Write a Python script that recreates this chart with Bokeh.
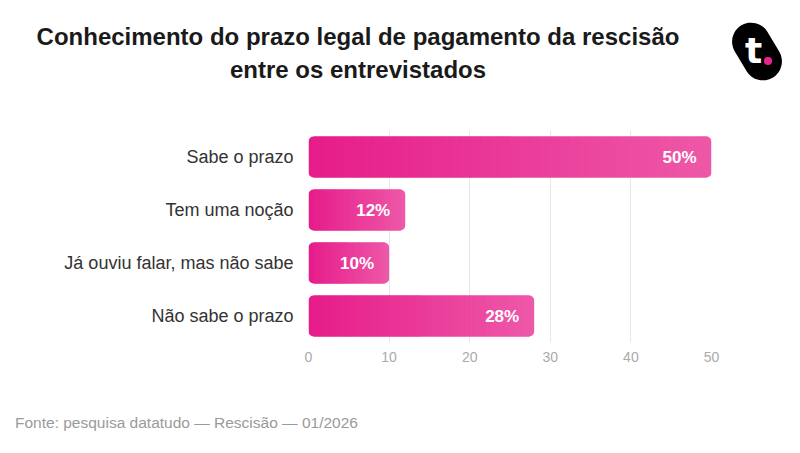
import numpy as np
from bokeh.plotting import figure
from bokeh.layouts import column
from bokeh.models import Range1d, FixedTicker, ColumnDataSource, Div
from bokeh.core.properties import value
from bokeh.embed import file_html
from bokeh.resources import INLINE

# ---- data ----
categories = ["Sabe o prazo", "Tem uma noção", "Já ouviu falar, mas não sabe", "Não sabe o prazo"]
values = [50, 12, 10, 28]
bar_labels = ["50%", "12%", "10%", "28%"]
x_ticks = [0, 10, 20, 30, 40, 50]
title_lines = ["Conhecimento do prazo legal de pagamento da rescisão", "entre os entrevistados"]
footer = "Fonte: pesquisa datatudo — Rescisão — 01/2026"

# ---- layout ----
W, H = 800, 453
TOP_H = 130          # header strip
MAIN_H = 270         # chart strip (130..400)
BOT_H = H - TOP_H - MAIN_H
FL, FR = 308, 711
FRAME_H = 212
FONT = "Liberation Sans"
C0 = np.array([230, 28, 138])
C1 = np.array([238, 88, 168])

# ---- header: title + logo (HTML) ----
header_html = (
    '<div style="position:relative;width:800px;height:130px;margin:0;padding:0;'
    "font-family:'Liberation Sans',Arial,sans-serif;\">"
    '<div style="position:absolute;left:0;top:20.2px;width:716px;text-align:center;'
    'font-weight:bold;font-size:24px;line-height:33px;color:#1a1a1a;white-space:nowrap;">'
    + title_lines[0] + "<br>" + title_lines[1] + "</div>"
    '<div style="position:absolute;left:738px;top:20.5px;width:38px;height:61px;'
    'border-radius:19px;background:#000;transform:rotate(-31deg);"></div>'
    '<div style="position:absolute;left:735px;top:32.5px;width:37px;text-align:center;'
    "font-family:'DejaVu Sans',sans-serif;font-weight:bold;font-size:36px;line-height:36px;"
    'color:#fff;">t</div>'
    '<div style="position:absolute;left:764.25px;top:57.25px;width:7.5px;height:7.5px;'
    'border-radius:50%;background:#e6238f;"></div>'
    "</div>"
)
top = Div(text=header_html, width=W, height=TOP_H, margin=(0, 0, 0, 0))

# ---- main chart ----
ncat = len(categories)
ypos = [ncat - 1 - i for i in range(ncat)]

p = figure(width=W, height=MAIN_H, output_backend="svg", toolbar_location=None,
           y_range=Range1d(-0.5, ncat - 0.5), x_range=Range1d(0, 50),
           min_border_left=FL, min_border_right=W - FR,
           min_border_top=0, min_border_bottom=MAIN_H - FRAME_H,
           margin=(0, 0, 0, 0))
p.outline_line_color = None
p.background_fill_color = "white"
p.border_fill_color = "white"

ppu = (FR - FL) / 50.0
rd = 5.0 / ppu
hgt = 0.77


def hexc(c):
    c = np.clip(np.round(c), 0, 255).astype(int)
    return "#%02x%02x%02x" % tuple(c)


p.hbar(y=ypos, left=[0] * ncat, right=[v / 2 for v in values], height=hgt,
       fill_color=hexc(C0), line_color=None, border_radius=(5, 0, 0, 5))
p.hbar(y=ypos, left=[v / 2 for v in values], right=values, height=hgt,
       fill_color=hexc(C1), line_color=None, border_radius=(0, 5, 5, 0))

n = 40
ys, ls, rs, cs = [], [], [], []
for yy, v in zip(ypos, values):
    edges = np.linspace(rd, v - rd, n + 1)
    for i in range(n):
        ys.append(yy)
        ls.append(edges[i])
        rs.append(edges[i + 1] + 0.08)
        t = ((edges[i] + edges[i + 1]) / 2) / v
        cs.append(hexc(C0 + (C1 - C0) * t))
p.hbar(y="y", left="l", right="r", height=hgt, fill_color="c", line_color=None,
       source=ColumnDataSource(dict(y=ys, l=ls, r=rs, c=cs)))

p.text(x=values, y=ypos, text=bar_labels, x_offset=-15, text_align="right",
       text_baseline="middle", text_color="white", text_font=value(FONT),
       text_font_style="bold", text_font_size="17px")

p.ygrid.grid_line_color = None
p.xgrid.grid_line_color = "#e8e8e8"
p.xgrid.grid_line_width = 1
p.xaxis.ticker = FixedTicker(ticks=x_ticks)
p.yaxis.ticker = FixedTicker(ticks=ypos)
p.yaxis.major_label_overrides = {yy: c for yy, c in zip(ypos, categories)}
for ax in (p.xaxis, p.yaxis):
    ax.axis_line_color = None
    ax.major_tick_line_color = None
    ax.minor_tick_line_color = None
    ax.major_tick_out = 0
    ax.major_tick_in = 0
    ax.major_label_text_font = FONT
p.xaxis.major_label_text_font_size = "14px"
p.xaxis.major_label_text_color = "#aaaaaa"
p.xaxis.major_label_standoff = 9
p.yaxis.major_label_text_font_size = "18px"
p.yaxis.major_label_text_color = "#333333"
p.yaxis.major_label_standoff = 15

# ---- footer (HTML) ----
footer_html = (
    '<div style="position:relative;width:800px;height:53px;margin:0;padding:0;'
    "font-family:'Liberation Sans',Arial,sans-serif;\">"
    '<div style="position:absolute;left:15px;top:14.9px;font-size:15.5px;line-height:15.5px;'
    'color:#9a9a9a;white-space:nowrap;">' + footer + "</div></div>"
)
bot = Div(text=footer_html, width=W, height=BOT_H, margin=(0, 0, 0, 0))

lay = column(top, p, bot, spacing=0)
open("out.html", "w").write(file_html(lay, INLINE))
